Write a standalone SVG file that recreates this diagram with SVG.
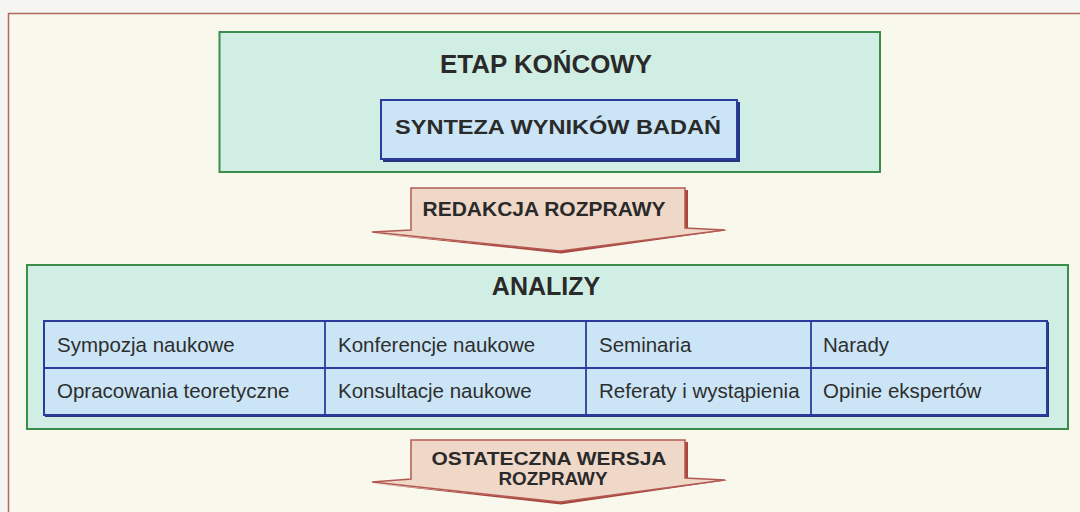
<svg xmlns="http://www.w3.org/2000/svg" width="1080" height="512" viewBox="0 0 1080 512">
  <style>
    .hd { font-family: "Liberation Sans", Arial, sans-serif; font-weight: bold; fill: #2a2a2a; text-anchor: middle; }
    .cell { font-family: "Liberation Sans", Arial, sans-serif; font-size: 20.5px; fill: #2e2e2e; }
    .green { fill: #d1eee5; stroke: #3b8d4c; stroke-width: 2; }
    .blue { fill: #cbe5f6; stroke: #2c3c9c; stroke-width: 2; }
    .bshadow { fill: #26357f; }
    .grid { stroke: #2c3c9c; stroke-width: 1.8; fill: none; }
    .arrow { fill: #f0d8c9; stroke: #b25a52; stroke-width: 1.5; stroke-linejoin: miter; }
    .ashadow { fill: #a9463e; }
  </style>

  <!-- page -->
  <rect x="0" y="0" width="1080" height="512" fill="#f5f5f1"/>
  <rect id="frame" x="8.5" y="13.5" width="1090" height="520" fill="#f8f8ed" stroke="#b06a62" stroke-width="1.5"/>

  <!-- ETAP KOŃCOWY -->
  <g id="etap-koncowy">
    <rect class="green" x="219.5" y="32" width="660.5" height="140"/>
    <text class="hd" x="546" y="73" font-size="25" textLength="212" lengthAdjust="spacingAndGlyphs">ETAP KOŃCOWY</text>
  </g>

  <!-- SYNTEZA WYNIKÓW BADAŃ -->
  <g id="synteza">
    <rect class="bshadow" x="383" y="102" width="357" height="60"/>
    <rect class="blue" x="381" y="100" width="356" height="59"/>
    <text class="hd" x="558" y="134" font-size="21" textLength="326" lengthAdjust="spacingAndGlyphs">SYNTEZA WYNIKÓW BADAŃ</text>
  </g>

  <!-- ANALIZY -->
  <g id="analizy">
    <rect class="green" x="27" y="265" width="1041" height="164"/>
    <text class="hd" x="546" y="295" font-size="25">ANALIZY</text>
  </g>

  <!-- table of analyses -->
  <g id="analizy-tabela">
    <rect class="bshadow" x="45" y="322" width="1004" height="95"/>
    <rect class="blue" x="44" y="321" width="1003" height="94"/>
    <line class="grid" x1="44" y1="368" x2="1047" y2="368"/>
    <line class="grid" x1="325" y1="321" x2="325" y2="415"/>
    <line class="grid" x1="586" y1="321" x2="586" y2="415"/>
    <line class="grid" x1="811" y1="321" x2="811" y2="415"/>
  </g>
  <g id="cell-sympozja"><text class="cell" x="57" y="352">Sympozja naukowe</text></g>
  <g id="cell-konferencje"><text class="cell" x="338" y="352">Konferencje naukowe</text></g>
  <g id="cell-seminaria"><text class="cell" x="599" y="352">Seminaria</text></g>
  <g id="cell-narady"><text class="cell" x="823" y="352">Narady</text></g>
  <g id="cell-opracowania"><text class="cell" x="57" y="398">Opracowania teoretyczne</text></g>
  <g id="cell-konsultacje"><text class="cell" x="338" y="398">Konsultacje naukowe</text></g>
  <g id="cell-referaty"><text class="cell" x="599" y="398">Referaty i wystąpienia</text></g>
  <g id="cell-opinie"><text class="cell" x="823" y="398">Opinie ekspertów</text></g>

  <!-- block arrows -->
  <g id="connectors">
    <g id="arrow-redakcja">
      <polygon class="ashadow" points="685,190 688,190 688,229 728,230 561,253.5 373,233.5 560,251 725,230 685,229"/>
      <polygon class="arrow" points="411,188 685,188 685,228 725,230 560,251 372,232 411,230"/>
      <text class="hd" x="544" y="216" font-size="19.5" textLength="243" lengthAdjust="spacingAndGlyphs">REDAKCJA ROZPRAWY</text>
    </g>
    <g id="arrow-ostateczna">
      <polygon class="ashadow" points="685,442 688,442 688,479 728,480 561,504.5 373,483.5 560,502 725,480 685,479"/>
      <polygon class="arrow" points="411,440 685,440 685,478 725,480 560,502 372,482 411,479"/>
      <text class="hd" font-size="17.5"><tspan x="549" y="465" textLength="235" lengthAdjust="spacingAndGlyphs">OSTATECZNA WERSJA</tspan><tspan x="553" y="485" textLength="109" lengthAdjust="spacingAndGlyphs">ROZPRAWY</tspan></text>
    </g>
  </g>
</svg>
